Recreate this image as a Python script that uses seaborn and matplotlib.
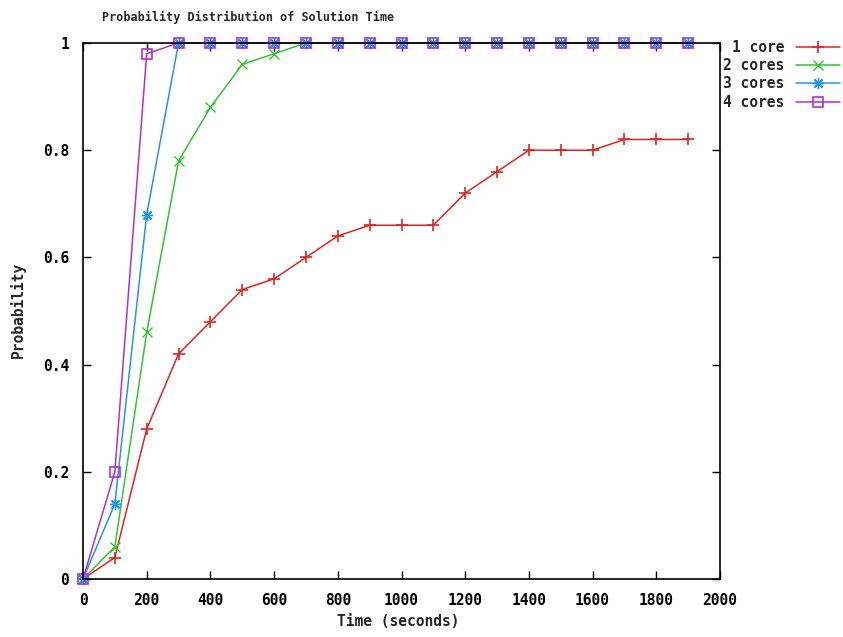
import numpy as np
import pandas as pd
import matplotlib
matplotlib.use("Agg")
import matplotlib.pyplot as plt
import seaborn as sns

# data
time_s = [0, 100, 200, 300, 400, 500, 600, 700, 800, 900,
          1000, 1100, 1200, 1300, 1400, 1500, 1600, 1700, 1800, 1900]
core1 = [0.0, 0.04, 0.28, 0.42, 0.48, 0.54, 0.56, 0.60, 0.64, 0.66,
         0.66, 0.66, 0.72, 0.76, 0.80, 0.80, 0.80, 0.82, 0.82, 0.82]
core2 = [0.0, 0.06, 0.46, 0.78, 0.88, 0.96, 0.98, 1.0, 1.0, 1.0,
         1.0, 1.0, 1.0, 1.0, 1.0, 1.0, 1.0, 1.0, 1.0, 1.0]
core3 = [0.0, 0.14, 0.68, 1.0, 1.0, 1.0, 1.0, 1.0, 1.0, 1.0,
         1.0, 1.0, 1.0, 1.0, 1.0, 1.0, 1.0, 1.0, 1.0, 1.0]
core4 = [0.0, 0.20, 0.98, 1.0, 1.0, 1.0, 1.0, 1.0, 1.0, 1.0,
         1.0, 1.0, 1.0, 1.0, 1.0, 1.0, 1.0, 1.0, 1.0, 1.0]
labels = ["1 core", "2 cores", "3 cores", "4 cores"]
x_ticks = [0, 200, 400, 600, 800, 1000, 1200, 1400, 1600, 1800, 2000]
y_ticks = [0, 0.2, 0.4, 0.6, 0.8, 1]
y_tick_labels = ["0", "0.2", "0.4", "0.6", "0.8", "1"]

sns.set_style("ticks")
plt.rcParams["font.family"] = ["DejaVu Sans Mono"]
plt.rcParams["font.weight"] = "bold"

fig = plt.figure(figsize=(8.43, 6.37), dpi=100)
ax = fig.add_axes([83 / 843, 58 / 637, 637 / 843, 536 / 637])

styles = [
    dict(color="#e02424", marker="+", ms=8, mew=1.2),
    dict(color="#33c433", marker="x", ms=7, mew=1.0),
    dict(color="#2594e8", marker=(8, 2, 0), ms=8, mew=1.0),
    dict(color="#b22fd6", marker="s", ms=6.5, mew=1.2),
]
series = [core1, core2, core3, core4]

for vals, lab, st in zip(series, labels, styles):
    face = "none" if st["marker"] == "s" else st["color"]
    sns.lineplot(x=time_s, y=vals, ax=ax, label=lab, color=st["color"],
                 marker=st["marker"], markersize=st["ms"],
                 markeredgewidth=st["mew"], markeredgecolor=st["color"],
                 markerfacecolor=face, linewidth=1.1, clip_on=False)

ax.set_xlim(0, 2000)
ax.set_ylim(0, 1)
ax.set_xticks(x_ticks)
ax.set_xticklabels([str(t) for t in x_ticks])
ax.set_yticks(y_ticks)
ax.set_yticklabels(y_tick_labels)
ax.tick_params(direction="in", length=6, width=1, top=True, right=True,
               labelsize=10.5, pad=10, colors="black")
for sp in ax.spines.values():
    sp.set_visible(True)
    sp.set_linewidth(1.2)
    sp.set_color("black")
ax.grid(False)

ax.set_xlabel("")
ax.set_ylabel("")
fig.text(398 / 843, 1 - 622 / 637, "Time (seconds)", ha="center", va="center",
         fontsize=10.5, fontweight="bold")
fig.text(18 / 843, 1 - 310 / 637, "Probability", ha="center", va="center",
         rotation=90, fontsize=10.5, fontweight="bold")
fig.text(248 / 843, 1 - 17 / 637, "Probability Distribution of Solution Time",
         ha="center", va="center", fontsize=8.5, fontweight="bold")

leg = ax.legend(loc="upper right", bbox_to_anchor=(840 / 843, 1 - 40 / 637),
                bbox_transform=fig.transFigure, frameon=False, markerfirst=False,
                fontsize=10.5, handlelength=3.0, handletextpad=0.8,
                labelspacing=0.22, borderpad=0, borderaxespad=0)

fig.savefig("out.png", dpi=100, facecolor="white")
